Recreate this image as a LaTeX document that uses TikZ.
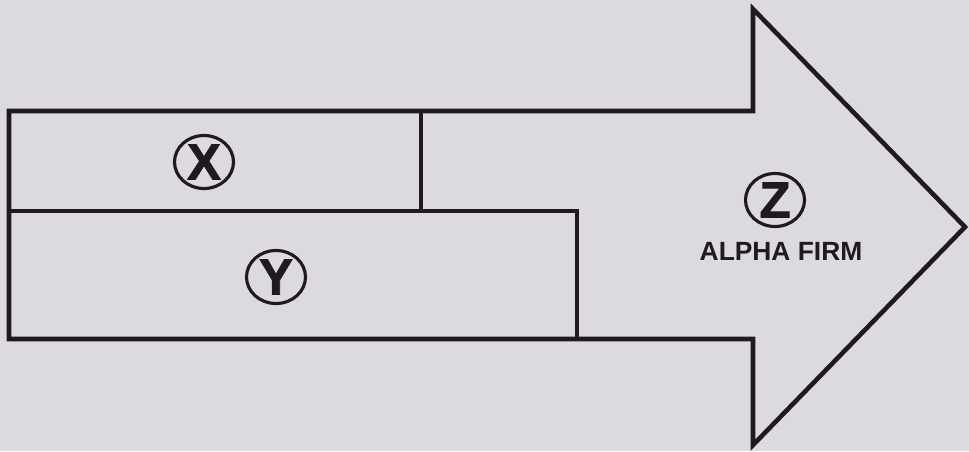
\documentclass[tikz,border=0pt]{standalone}
\usepackage{fontspec}
\setmainfont{Liberation Sans}
\newfontfamily\ringfont[BoldFeatures={FakeBold=1.6}]{Liberation Sans}
\usepackage{tikz}
\usetikzlibrary{shapes,positioning,calc}
\definecolor{paper}{RGB}{221,217,224}
\definecolor{ink}{RGB}{30,26,30}

\begin{document}
\begin{tikzpicture}[every node/.style={font=\bfseries}]
  \tikzset{
    outline/.style={draw=ink, line width=2.6pt, line join=miter},
    letterring/.style={ellipse, draw=ink, line width=1.8pt, minimum width=1.18cm, minimum height=1.06cm, inner sep=0pt, font=\ringfont\fontsize{29}{29}\selectfont\bfseries, text=ink},
  }
  \useasboundingbox (0,0) rectangle (19.38,9.02);
  \fill[paper] (0,0) rectangle (19.38,9.02);
  % big arrow
  \draw[outline] (0.18,6.8) -- (15.06,6.8) -- (15.06,8.84) -- (19.30,4.48)
    -- (15.06,0.12) -- (15.06,2.24) -- (0.18,2.24) -- cycle;
  % X and Y bands
  \draw[outline] (0.18,4.8) -- (11.54,4.8) -- (11.54,2.24);
  \draw[outline] (8.42,6.8) -- (8.42,4.8);
  % labels
  \node[letterring] (x) at (4.08,5.78) {X};
  \node[letterring] (y) at (5.52,3.48) {Y};
  \node[letterring] (z) at (15.5,5.02) {Z};
  \node[font=\fontsize{15}{15}\selectfont\bfseries, text=ink] (firm) at (15.62,4.0) {ALPHA FIRM};
\end{tikzpicture}
\end{document}
